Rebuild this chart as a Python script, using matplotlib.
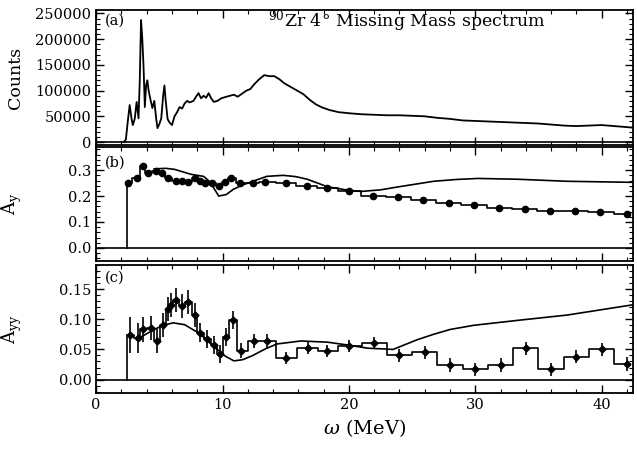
import matplotlib
matplotlib.use("Agg")
import matplotlib.pyplot as plt
from matplotlib.ticker import MultipleLocator

plt.rcParams['font.family'] = ['DejaVu Serif']
plt.rcParams['mathtext.fontset'] = 'dejavuserif'

# ---- panel (a): missing-mass spectrum ----
spec_e = [2.2, 2.35, 2.5, 2.65, 2.8, 2.9, 3.05, 3.2, 3.35, 3.45, 3.55, 3.65, 3.75, 3.85,
          3.95, 4.05, 4.15, 4.3, 4.45, 4.6, 4.75, 4.85, 5.0, 5.15, 5.3, 5.4, 5.5, 5.65,
          5.8, 6.0, 6.2, 6.4, 6.6, 6.8, 7.0, 7.2, 7.4, 7.7, 7.9, 8.1, 8.3, 8.5, 8.7, 8.9,
          9.1, 9.3, 9.6, 9.9, 10.3, 10.6, 10.9, 11.2, 11.6, 11.9, 12.2, 12.5, 12.9, 13.3,
          13.7, 14.1, 14.5, 14.9, 15.4, 15.9, 16.4, 16.9, 17.4, 17.9, 18.5, 19.2, 20.0,
          21, 22, 23, 24, 25, 26, 27, 28, 29, 30, 31, 32, 33, 34, 35, 36, 37, 38, 39,
          40, 41, 42, 42.5]
spec_counts = [0, 5000, 40000, 72000, 45000, 33000, 45000, 78000, 46000, 120000, 237000,
               200000, 145000, 68000, 110000, 120000, 100000, 82000, 66000, 80000, 45000,
               27000, 35000, 46000, 90000, 110000, 81000, 45000, 38000, 33000, 50000, 58000,
               68000, 65000, 75000, 80000, 77000, 80000, 88000, 95000, 85000, 90000, 86000,
               95000, 85000, 78000, 80000, 85000, 88000, 90000, 92000, 88000, 95000, 100000,
               103000, 112000, 122000, 130000, 128000, 128000, 122000, 114000, 107000,
               100000, 93000, 82000, 73000, 67000, 62000, 58000, 56000, 54000, 53000, 52000,
               52000, 51000, 50000, 47000, 45000, 42000, 41000, 40000, 39000, 38000, 37000,
               36000, 34000, 32000, 31000, 32000, 33000, 31000, 29000, 28000]

# ---- panel (b): A_y ----
ay_e = [2.5, 3.2, 3.7, 4.1, 4.7, 5.2, 5.7, 6.3, 6.8, 7.3, 7.8, 8.2, 8.6, 9.2, 9.7, 10.2,
        10.7, 11.4, 12.4, 13.4, 15.0, 16.7, 18.3, 20.0, 21.9, 23.9, 25.9, 27.9, 29.9,
        31.9, 33.9, 35.9, 37.9, 39.9, 42.0]
ay_val = [0.25, 0.27, 0.315, 0.29, 0.295, 0.29, 0.27, 0.26, 0.26, 0.255, 0.27, 0.26, 0.25,
          0.25, 0.24, 0.255, 0.27, 0.25, 0.25, 0.255, 0.25, 0.24, 0.233, 0.218, 0.202,
          0.195, 0.183, 0.175, 0.167, 0.155, 0.152, 0.144, 0.144, 0.14, 0.132]
ay_th_e = [4.6, 5.5, 6.2, 7.5, 8.5, 9.0, 9.7, 10.3, 10.85, 11.6, 12.4, 13.5, 14.8, 15.8,
           16.7, 18.3, 20.0, 21.0, 22.5, 24.1, 26.7, 28.5, 30.2, 33.3, 37.3, 42.5]
ay_th = [0.305, 0.307, 0.303, 0.284, 0.276, 0.255, 0.20, 0.206, 0.226, 0.243, 0.257,
         0.276, 0.28, 0.275, 0.265, 0.236, 0.222, 0.218, 0.224, 0.237, 0.257, 0.264,
         0.268, 0.265, 0.257, 0.253]

# ---- panel (c): A_yy ----
ayy_e = [2.7, 3.3, 3.7, 4.3, 4.8, 5.3, 5.7, 5.9, 6.3, 6.8, 7.3, 7.8, 8.2, 8.8, 9.3, 9.8,
         10.3, 10.8, 11.5, 12.5, 13.5, 15.0, 16.8, 18.3, 20.0, 22.0, 24.0, 26.0, 28.0,
         30.0, 32.0, 34.0, 36.0, 38.0, 40.0, 42.0]
ayy_val = [0.074, 0.069, 0.083, 0.085, 0.064, 0.09, 0.117, 0.124, 0.132, 0.122, 0.128,
           0.107, 0.078, 0.067, 0.057, 0.043, 0.07, 0.098, 0.048, 0.064, 0.064, 0.036,
           0.052, 0.048, 0.055, 0.06, 0.04, 0.045, 0.024, 0.017, 0.024, 0.052, 0.017,
           0.038, 0.05, 0.026]
ayy_err = [0.03, 0.025, 0.02, 0.02, 0.02, 0.02, 0.02, 0.02, 0.02, 0.02, 0.02, 0.02,
           0.015, 0.015, 0.015, 0.015, 0.015, 0.015, 0.012, 0.012, 0.012, 0.01, 0.01,
           0.01, 0.01, 0.01, 0.011, 0.011, 0.011, 0.011, 0.011, 0.011, 0.011, 0.011,
           0.011, 0.011]
ayy_th_e = [3.5, 4.5, 5.3, 6.1, 7.0, 8.2, 9.3, 10.2, 10.9, 11.6, 12.4, 13.4, 14.3, 16.2,
            18.3, 20.0, 21.5, 23.5, 25.4, 26.7, 28.0, 29.9, 33.3, 37.3, 42.5]
ayy_th = [0.07, 0.082, 0.09, 0.094, 0.091, 0.076, 0.055, 0.039, 0.031, 0.033, 0.04, 0.051,
          0.059, 0.064, 0.062, 0.057, 0.052, 0.05, 0.066, 0.075, 0.083, 0.09, 0.098, 0.107,
          0.124]

threshold = 2.45
xticks = [0, 10, 20, 30, 40]

fig = plt.figure(figsize=(6.37, 4.49), dpi=100)
L, W = 0.151, 0.843
axa = fig.add_axes([L, 0.677, W, 0.301])
axb = fig.add_axes([L, 0.419, W, 0.254])
axc = fig.add_axes([L, 0.125, W, 0.285])

for ax in (axa, axb, axc):
    ax.set_xlim(0, 42.5)
    ax.xaxis.set_major_locator(MultipleLocator(10))
    ax.xaxis.set_minor_locator(MultipleLocator(2))
    ax.tick_params(which='both', direction='in', top=True, right=True, labelsize=10.5)
    ax.tick_params(which='major', length=6, width=1.0)
    ax.tick_params(which='minor', length=3, width=0.8)
    for s in ax.spines.values():
        s.set_linewidth(1.3)
    ax.axhline(0, color='black', lw=1.2)

# (a)
axa.plot(spec_e, spec_counts, color='black', lw=1.3)
axa.set_ylim(-5800, 256800)
axa.yaxis.set_major_locator(MultipleLocator(50000))
axa.yaxis.set_minor_locator(MultipleLocator(10000))
axa.tick_params(labelbottom=False)
axa.set_ylabel('Counts', fontsize=12.5)
axa.yaxis.set_label_coords(-0.135, 0.5)
axa.text(0.017, 0.92, '(a)', transform=axa.transAxes, fontsize=10.5, va='center')
axa.text(0.32, 0.92, r'$^{90}$Zr 4° Missing Mass spectrum',
         transform=axa.transAxes, fontsize=12.5, va='center')

# (b)
axb.plot([threshold, threshold], [0, ay_val[0]], color='black', lw=1.2)
axb.plot(ay_e, ay_val, drawstyle='steps-mid', color='black', lw=1.2)
axb.plot(ay_e, ay_val, 'o', color='black', ms=4.5)
axb.plot(ay_th_e, ay_th, color='black', lw=1.2)
axb.set_ylim(-0.05, 0.39)
axb.yaxis.set_major_locator(MultipleLocator(0.1))
axb.yaxis.set_minor_locator(MultipleLocator(0.02))
axb.yaxis.set_major_formatter(plt.FormatStrFormatter('%.1f'))
axb.tick_params(labelbottom=False)
axb.set_ylabel(r'$\mathrm{A_y}$', fontsize=13)
axb.yaxis.set_label_coords(-0.135, 0.5)
axb.text(0.017, 0.86, '(b)', transform=axb.transAxes, fontsize=10.5, va='center')

# (c)
axc.plot([threshold, threshold], [0, ayy_val[0]], color='black', lw=1.2)
axc.plot(ayy_e, ayy_val, drawstyle='steps-mid', color='black', lw=1.2)
axc.errorbar(ayy_e, ayy_val, yerr=ayy_err, fmt='D', color='black', ms=3.5,
             elinewidth=1.2, capsize=0)
axc.plot(ayy_th_e, ayy_th, color='black', lw=1.2)
axc.set_ylim(-0.022, 0.19)
axc.yaxis.set_major_locator(MultipleLocator(0.05))
axc.yaxis.set_minor_locator(MultipleLocator(0.01))
axc.yaxis.set_major_formatter(plt.FormatStrFormatter('%.2f'))
axc.set_xticks(xticks)
axc.set_xticklabels([str(t) for t in xticks])
axc.set_ylabel(r'$\mathrm{A_{yy}}$', fontsize=13)
axc.yaxis.set_label_coords(-0.135, 0.5)
axc.set_xlabel(r'$\omega$ (MeV)', fontsize=14)
axc.text(0.017, 0.9, '(c)', transform=axc.transAxes, fontsize=10.5, va='center')

fig.savefig('out.png', dpi=100)
